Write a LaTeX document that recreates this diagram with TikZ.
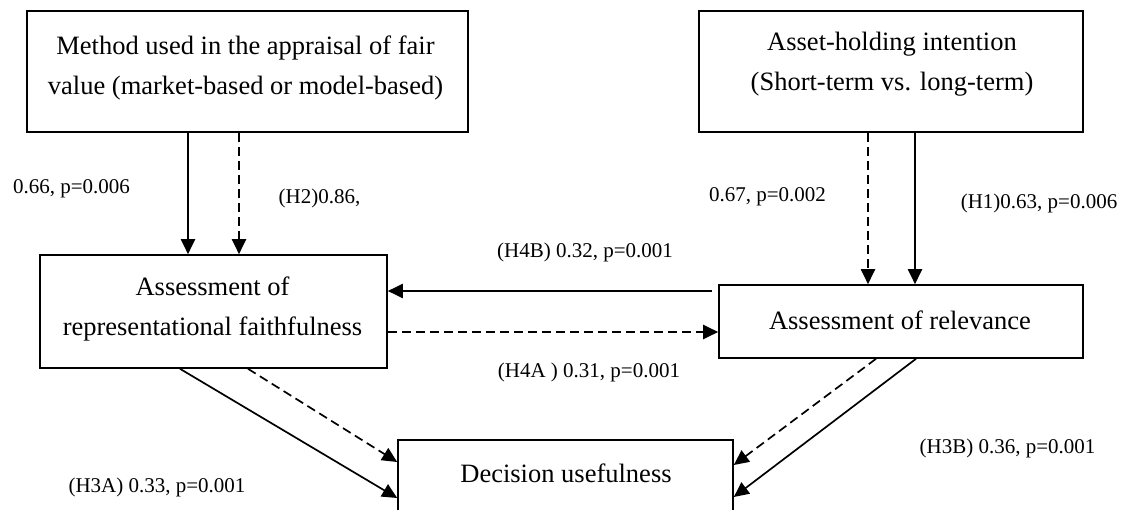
\documentclass[tikz,border=0pt]{standalone}
\usepackage{fontspec}
\setmainfont{Liberation Serif}
\usetikzlibrary{arrows.meta}
\tikzset{
  box/.style={draw, line width=1.6pt, rectangle, inner sep=0pt},
  boxtext/.style={align=center, inner sep=0pt, font=\fontsize{26.5}{40}\selectfont},
  lbl/.style={inner sep=0pt, font=\fontsize{21}{24}\selectfont},
  solidarrow/.style={line width=2pt, -{Triangle[length=15pt,width=14pt]}},
  dasharrow/.style={line width=2pt, dash pattern=on 9pt off 5pt, -{Triangle[length=15pt,width=14pt]}},
  thinsolid/.style={solidarrow, line width=1.7pt},
  thindash/.style={dasharrow, line width=1.7pt},
}
\begin{document}
\begin{tikzpicture}[x=1pt, y=-1pt]
\useasboundingbox (0,0) rectangle (1121,510);
\clip (0,0) rectangle (1121,510);
% boxes
\node[box, minimum width=441pt, minimum height=121pt] (m) at (247.5,71.5) {};
\node[boxtext] (mt) at (245.5,68) {Method used in the appraisal of fair\\value (market-based or model-based)};
\node[box, minimum width=384pt, minimum height=121pt] (a) at (891,71.5) {};
\node[boxtext] (at) at (892,64) {Asset-holding intention\\(Short-term vs. long-term)};
\node[box, minimum width=347pt, minimum height=113pt] (rf) at (213.5,311.5) {};
\node[boxtext] (rft) at (212.5,308.5) {Assessment of\\representational faithfulness};
\node[box, minimum width=364pt, minimum height=73pt] (rel) at (901,321.5) {};
\node[boxtext] (relt) at (900,320) {Assessment of relevance};
\node[box, minimum width=335pt, minimum height=75pt] (dec) at (565.5,477.5) {};
\node[boxtext] (dect) at (566,473) {Decision usefulness};
% column / row helpers
\coordinate (c1) at (188,0);
\coordinate (c2) at (239,0);
\coordinate (c3) at (868,0);
\coordinate (c4) at (915,0);
\coordinate (r1) at (0,291);
\coordinate (r2) at (0,332);
\coordinate (r3) at (0,462);
\coordinate (r4) at (0,498);
\coordinate (r5) at (0,465);
\coordinate (r6) at (0,497);
\coordinate (b1) at (180,0);
\coordinate (b2) at (248,0);
\coordinate (b3) at (876,0);
\coordinate (b4) at (916,0);
% arrows
\draw[solidarrow] (m.south -| c1) -- (rf.north -| c1);
\draw[dasharrow] (m.south -| c2) -- (rf.north -| c2);
\draw[dasharrow] (a.south -| c3) -- (rel.north -| c3);
\draw[solidarrow] (a.south -| c4) -- (rel.north -| c4);
\draw[solidarrow] ([xshift=-6pt]rel.west |- r1) -- (rf.east |- r1);
\draw[dasharrow] (rf.east |- r2) -- (rel.west |- r2);
\draw[thinsolid] (rf.south -| b1) -- (dec.west |- r4);
\draw[thindash] (rf.south -| b2) -- (dec.west |- r3);
\draw[thindash] (rel.south -| b3) -- (dec.east |- r5);
\draw[thinsolid] (rel.south -| b4) -- (dec.east |- r6);
% labels
\node[lbl] (l1) at (71.5,189) {0.66, p=0.006};
\node[lbl] (l2) at (319.5,198) {(H2)0.86,};
\node[lbl] (l3) at (767.5,197) {0.67, p=0.002};
\node[lbl] (l4) at (1039,203) {(H1)0.63, p=0.006};
\node[lbl] (l5) at (585,252) {(H4B) 0.32, p=0.001};
\node[lbl] (l6) at (589,372) {(H4A ) 0.31, p=0.001};
\node[lbl] (l7) at (157,487.5) {(H3A) 0.33, p=0.001};
\node[lbl] (l8) at (1007.5,448) {(H3B) 0.36, p=0.001};
\end{tikzpicture}
\end{document}
